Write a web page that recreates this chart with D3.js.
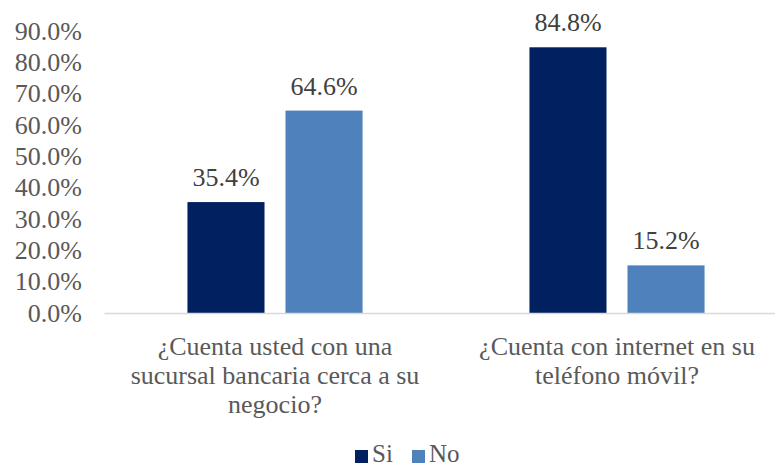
<!DOCTYPE html>
<html>
<head>
<meta charset="utf-8">
<script src="https://cdn.jsdelivr.net/npm/d3@7"></script>
<style>
  html, body { margin: 0; padding: 0; background: #fff; }
  svg { display: block; }
  svg text { font-family: "Liberation Serif", "Times New Roman", serif; }
</style>
</head>
<body>
<svg id="chart" width="775" height="468"></svg>
<script>
// Survey questions (x categories) and answer series
const categories = [
  ["¿Cuenta usted con una", "sucursal bancaria cerca a su", "negocio?"],
  ["¿Cuenta con internet en su", "teléfono móvil?"]
];
const seriesNames = ["Si", "No"];
const siValues = [0.354, 0.848];
const noValues = [0.646, 0.152];
const yTicks = [0, 0.1, 0.2, 0.3, 0.4, 0.5, 0.6, 0.7, 0.8, 0.9];

const colors = { Si: "#002060", No: "#4F81BD" };
const svg = d3.select("#chart");

const catKeys = categories.map((c, i) => "c" + i);
const rows = catKeys.map((k, i) => ({ key: k, Si: siValues[i], No: noValues[i] }));

const baseY = 313, topY = 31;
const y = d3.scaleLinear().domain([0, 0.9]).range([baseY, topY]);

const x0 = d3.scaleBand().domain(catKeys).range([104, 788])
  .paddingInner(0.488).paddingOuter(0.244);
const x1 = d3.scaleBand().domain(seriesNames).range([0, x0.bandwidth()])
  .paddingInner(0.214).paddingOuter(0);

const fmt = d3.format(".1%");

// Y axis: labels only
const yAxis = d3.axisLeft(y).tickValues(yTicks).tickFormat(fmt).tickSize(0).tickPadding(0);
const yg = svg.append("g").attr("transform", "translate(82,0)").call(yAxis)
  .attr("font-family", null).attr("font-size", null);
yg.select(".domain").remove();
yg.selectAll("text")
  .style("font-size", "26px")
  .attr("fill", "#595959");

// Bars
const groups = svg.append("g").selectAll("g")
  .data(rows).join("g")
  .attr("transform", d => `translate(${x0(d.key)},0)`);

groups.selectAll("rect")
  .data(d => seriesNames.map(s => ({ s, v: d[s] })))
  .join("rect")
  .attr("x", d => x1(d.s))
  .attr("width", x1.bandwidth())
  .attr("y", d => y(d.v))
  .attr("height", d => y(0) - y(d.v))
  .attr("fill", d => colors[d.s]);

// Value labels
groups.selectAll("text.val")
  .data(d => seriesNames.map(s => ({ s, v: d[s] })))
  .join("text")
  .attr("class", "val")
  .attr("x", d => x1(d.s) + x1.bandwidth() / 2)
  .attr("y", d => y(d.v) - 16)
  .attr("text-anchor", "middle")
  .style("font-size", "26px")
  .attr("fill", "#404040")
  .text(d => fmt(d.v));

// X axis line and category labels
const xAxis = d3.axisBottom(x0).tickSize(0).tickFormat("");
const xg = svg.append("g").attr("transform", `translate(0,${baseY})`).call(xAxis);
xg.select(".domain").attr("stroke", "#d9d9d9").attr("stroke-width", 1.5)
  .attr("d", `M104.5,0.5H775`);

const labelG = svg.append("g");
catKeys.forEach((k, i) => {
  const t = labelG.append("text")
    .attr("x", x0(k) + x0.bandwidth() / 2)
    .attr("y", 355)
    .attr("text-anchor", "middle")
    .style("font-size", "26px")
    .attr("fill", "#595959");
  categories[i].forEach((line, j) => {
    t.append("tspan")
      .attr("x", x0(k) + x0.bandwidth() / 2)
      .attr("dy", j === 0 ? 0 : 29)
      .text(line);
  });
});

// Legend
const legend = svg.append("g");
const legendItems = [{ s: "Si", x: 355 }, { s: "No", x: 412 }];
legendItems.forEach(it => {
  legend.append("rect")
    .attr("x", it.x).attr("y", 450)
    .attr("width", 13).attr("height", 13)
    .attr("fill", colors[it.s]);
  legend.append("text")
    .attr("x", it.x + 17).attr("y", 462)
    .style("font-size", "25px")
    .attr("fill", "#595959")
    .text(it.s);
});
</script>
</body>
</html>
